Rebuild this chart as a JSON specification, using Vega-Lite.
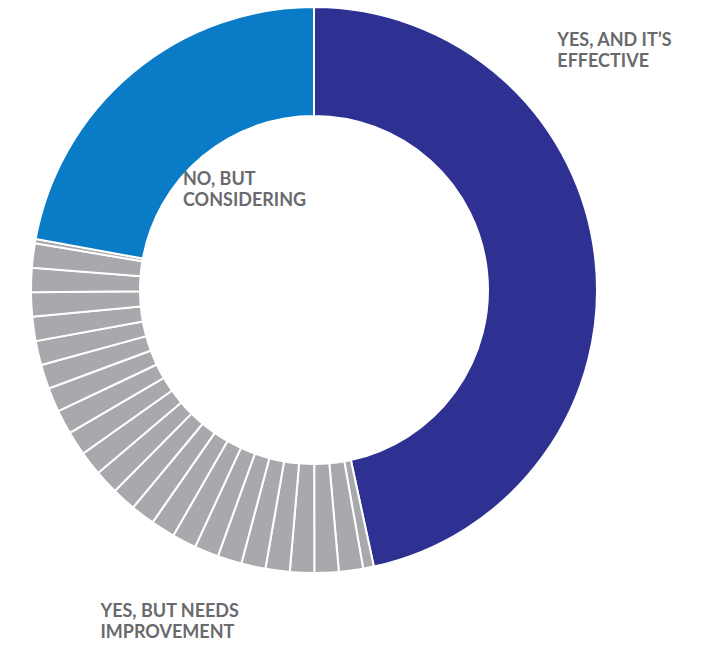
{
  "$schema": "https://vega.github.io/schema/vega-lite/v6.json",
  "width": 628,
  "height": 580,
  "autosize": {"type": "none"},
  "padding": {"left": 0, "top": 0, "right": 79, "bottom": 66},
  "background": "white",
  "config": {"view": {"stroke": null}},
  "data": {
    "values": [
      {"seg": 1, "group": "Yes, and it's effective", "value": 46.61, "label": "YES, AND IT’S\nEFFECTIVE"},
      {"seg": 2, "group": "Yes, but needs improvement", "value": 0.61},
      {"seg": 3, "group": "Yes, but needs improvement", "value": 1.383},
      {"seg": 4, "group": "Yes, but needs improvement", "value": 1.383},
      {"seg": 5, "group": "Yes, but needs improvement", "value": 1.383},
      {"seg": 6, "group": "Yes, but needs improvement", "value": 1.383},
      {"seg": 7, "group": "Yes, but needs improvement", "value": 1.383},
      {"seg": 8, "group": "Yes, but needs improvement", "value": 1.383, "label": "YES,  BUT NEEDS\nIMPROVEMENT"},
      {"seg": 9, "group": "Yes, but needs improvement", "value": 1.383},
      {"seg": 10, "group": "Yes, but needs improvement", "value": 1.383},
      {"seg": 11, "group": "Yes, but needs improvement", "value": 1.383},
      {"seg": 12, "group": "Yes, but needs improvement", "value": 1.383},
      {"seg": 13, "group": "Yes, but needs improvement", "value": 1.383},
      {"seg": 14, "group": "Yes, but needs improvement", "value": 1.383},
      {"seg": 15, "group": "Yes, but needs improvement", "value": 1.383},
      {"seg": 16, "group": "Yes, but needs improvement", "value": 1.383},
      {"seg": 17, "group": "Yes, but needs improvement", "value": 1.383},
      {"seg": 18, "group": "Yes, but needs improvement", "value": 1.383},
      {"seg": 19, "group": "Yes, but needs improvement", "value": 1.383},
      {"seg": 20, "group": "Yes, but needs improvement", "value": 1.383},
      {"seg": 21, "group": "Yes, but needs improvement", "value": 1.383},
      {"seg": 22, "group": "Yes, but needs improvement", "value": 1.383},
      {"seg": 23, "group": "Yes, but needs improvement", "value": 1.383},
      {"seg": 24, "group": "Yes, but needs improvement", "value": 1.383},
      {"seg": 25, "group": "Yes, but needs improvement", "value": 0.25},
      {"seg": 26, "group": "No, but considering", "value": 22.11, "label": "NO, BUT\nCONSIDERING"}
    ]
  },
  "encoding": {
    "theta": {"field": "value", "type": "quantitative", "stack": true},
    "order": {"field": "seg", "type": "quantitative"}
  },
  "layer": [
    {
      "mark": {"type": "arc", "outerRadius": 283, "innerRadius": 174, "stroke": "white", "strokeWidth": 2},
      "encoding": {
        "color": {
          "field": "group",
          "type": "nominal",
          "scale": {
            "domain": ["Yes, and it's effective", "Yes, but needs improvement", "No, but considering"],
            "range": ["#2e3192", "#a7a9ac", "#0a7bc6"]
          },
          "legend": null
        }
      }
    },
    {
      "mark": {"type": "text", "radius": 300, "dx": -55, "dy": -212, "align": "left", "baseline": "alphabetic", "font": "Lato", "fontWeight": "bold", "fontSize": 18, "lineHeight": 21, "lineBreak": "\n", "color": "#696a6d"},
      "encoding": {
        "text": {"condition": {"test": "datum.seg === 1", "field": "label"}, "value": ""}
      }
    },
    {
      "mark": {"type": "text", "radius": 150, "dx": -35, "dy": 10, "align": "left", "baseline": "alphabetic", "font": "Lato", "fontWeight": "bold", "fontSize": 18, "lineHeight": 21, "lineBreak": "\n", "color": "#696a6d"},
      "encoding": {
        "text": {"condition": {"test": "datum.seg === 26", "field": "label"}, "value": ""}
      }
    },
    {
      "mark": {"type": "text", "radius": 300, "dx": -124, "dy": 41, "align": "left", "baseline": "alphabetic", "font": "Lato", "fontWeight": "bold", "fontSize": 18, "lineHeight": 21, "lineBreak": "\n", "color": "#696a6d"},
      "encoding": {
        "text": {"condition": {"test": "datum.seg === 8", "field": "label"}, "value": ""}
      }
    }
  ]
}
